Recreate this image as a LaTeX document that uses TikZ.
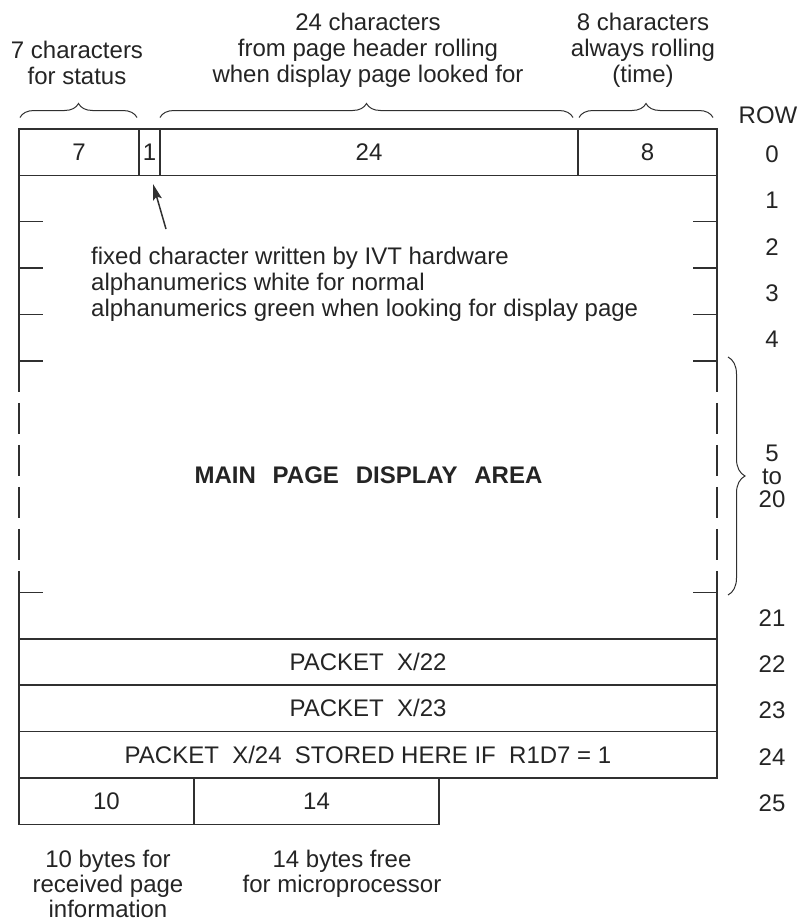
\documentclass[tikz,border=0pt]{standalone}
\usepackage{fontspec}
\setmainfont{Liberation Sans}
\usetikzlibrary{arrows.meta,decorations.pathreplacing}
\definecolor{lc}{HTML}{303030}
\definecolor{tc}{HTML}{242424}
\newcommand\myfs{\fontsize{24}{26}\selectfont}
\begin{document}
\begin{tikzpicture}[x=1pt,y=-1pt]
\tikzset{
  ln/.style={line width=1.5pt, draw=lc},
  cell/.style={draw=lc, line width=1.5pt, inner sep=0pt, font=\myfs, text=tc, minimum height=46.35pt},
  lbl/.style={inner sep=0pt, font=\myfs, text=tc},
  brc/.style={decorate, decoration={brace, amplitude=14pt}, line width=1pt, draw=lc},
  brcr/.style={decorate, decoration={brace, amplitude=17pt}, line width=1pt, draw=lc},
  arr/.style={-{Stealth[length=16pt,width=9pt,inset=3pt]}, line width=1.5pt, draw=lc},
  dsh/.style={ln, dash pattern=on 31pt off 11pt}
}
\useasboundingbox (0,0) rectangle (803,921);

% header labels
\node[lbl, anchor=base] (h7a) at (77,58) {7 characters};
\node[lbl, anchor=base] (h7b) at (77,84) {for status};
\node[lbl, anchor=base] (h24a) at (368,30.5) {24 characters};
\node[lbl, anchor=base] (h24b) at (368,56.5) {from page header rolling};
\node[lbl, anchor=base] (h24c) at (368,82.5) {when display page looked for};
\node[lbl, anchor=base] (h8a) at (643,30.5) {8 characters};
\node[lbl, anchor=base] (h8b) at (643,56.5) {always rolling};
\node[lbl, anchor=base] (h8c) at (643,82.5) {(time)};

% braces
\coordinate (b1s) at (20,117.5);  \coordinate (b1e) at (137,117.5);
\coordinate (b2s) at (160,117.5); \coordinate (b2e) at (573,117.5);
\coordinate (b3s) at (579,117.5); \coordinate (b3e) at (713,117.5);
\coordinate (b4s) at (728,357);   \coordinate (b4e) at (728,595);
\draw[brc] (b1s) -- (b1e);
\draw[brc] (b2s) -- (b2e);
\draw[brc] (b3s) -- (b3e);
\draw[brcr] (b4s) -- (b4e);

% row 0 cells
\node[cell, minimum width=120pt] (c7) at (79,152.2) {7};
\node[cell, minimum width=21pt] (c1) at (149.5,152.2) {1};
\node[cell, minimum width=418pt] (c24) at (369,152.2) {24};
\node[cell, minimum width=139pt] (c8) at (647.5,152.2) {8};

% body frame
\draw[ln] (19,175.35) -- (19,360.75);
\draw[dsh] (19,360.75) -- (19,592.5);
\draw[ln] (19,592.5) -- (19,638.85);
\draw[ln] (717,175.35) -- (717,360.75);
\draw[dsh] (717,360.75) -- (717,592.5);
\draw[ln] (717,592.5) -- (717,638.85);
\foreach \y in {221.7,268.05,314.4,360.75,592.5} {
  \draw[ln] (19,\y) -- (43,\y);
  \draw[ln] (693,\y) -- (717,\y);
}

% packets
\node[cell, minimum width=698pt] (p22) at (368,662.0) {PACKET~~X/22};
\node[cell, minimum width=698pt] (p23) at (368,708.4) {PACKET~~X/23};
\node[cell, minimum width=698pt] (p24) at (368,754.7) {PACKET~~X/24~~STORED HERE IF~~R1D7 = 1};
\node[cell, minimum width=175pt] (b10) at (106.5,801.1) {10};
\node[cell, minimum width=245pt] (b14) at (316.5,801.1) {14};

% note and arrow
\node[lbl, anchor=base west] (n1) at (91,264) {fixed character written by IVT hardware};
\node[lbl, anchor=base west] (n2) at (91,290) {alphanumerics white for normal};
\node[lbl, anchor=base west] (n3) at (91,316) {alphanumerics green when looking for display page};
\coordinate (arS) at (166,229);
\coordinate (arE) at (153,184);
\draw[arr] (arS) -- (arE);

% main area
\node[lbl, font=\myfs\bfseries, anchor=base] (main) at (368.5,483) {MAIN\hspace{0.7em}PAGE\hspace{0.7em}DISPLAY\hspace{0.7em}AREA};

% row numbers
\node[lbl, anchor=base] (rowh) at (768,123) {ROW};
\node[lbl] (r0) at (772,154.2) {0};
\node[lbl] (r1) at (772,200.5) {1};
\node[lbl] (r2) at (772,246.9) {2};
\node[lbl] (r3) at (772,293.2) {3};
\node[lbl] (r4) at (772,339.6) {4};
\node[lbl, align=center, font=\fontsize{24}{23}\selectfont] (r5) at (772,476) {5\\to\\20};
\node[lbl] (r21) at (772,617.7) {21};
\node[lbl] (r22) at (772,664.0) {22};
\node[lbl] (r23) at (772,710.4) {23};
\node[lbl] (r24) at (772,756.7) {24};
\node[lbl] (r25) at (772,803.1) {25};

% bottom labels
\node[lbl, anchor=base] (f10a) at (108,867) {10 bytes for};
\node[lbl, anchor=base] (f10b) at (108,892.5) {received page};
\node[lbl, anchor=base] (f10c) at (108,917.5) {information};
\node[lbl, anchor=base] (f14a) at (342,867) {14 bytes free};
\node[lbl, anchor=base] (f14b) at (342,892.5) {for microprocessor};
\end{tikzpicture}
\end{document}
